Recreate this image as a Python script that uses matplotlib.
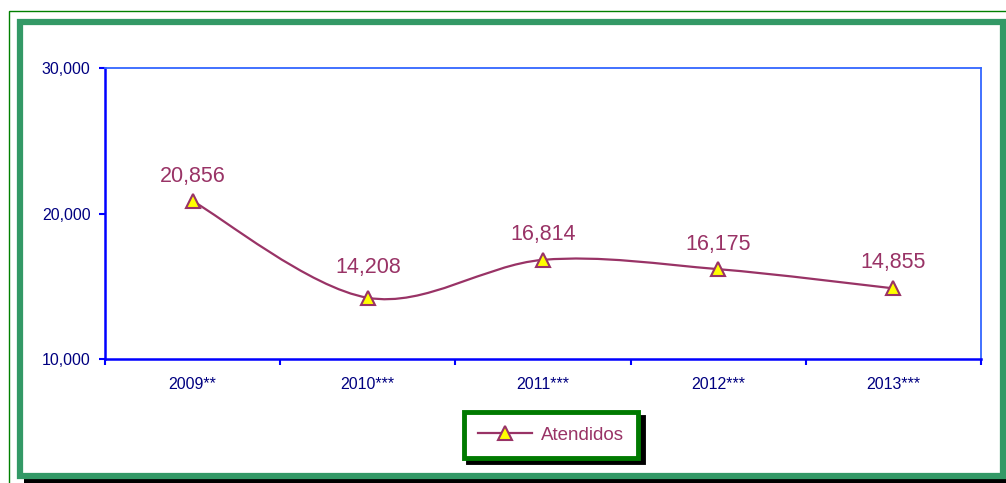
import numpy as np
import matplotlib.pyplot as plt
from matplotlib.path import Path
from matplotlib.patches import PathPatch, Rectangle

# data
years = ['2009**', '2010***', '2011***', '2012***', '2013***']
atendidos = [20856, 14208, 16814, 16175, 14855]

LINE = '#993366'
NAVY = '#000080'
label_lift = [14, 18, 14, 14, 15]  # points above each marker

plt.rcParams['font.family'] = ['Liberation Sans', 'DejaVu Sans']

fig = plt.figure(figsize=(10.06, 4.83), dpi=100)
W, H = 1006, 483


def px_rect(x0, y0, x1, y1, **kw):
    # rectangle in pixel coords (origin top-left)
    fig.patches.append(Rectangle((x0 / W, 1 - y1 / H), (x1 - x0) / W, (y1 - y0) / H,
                                 transform=fig.transFigure, figure=fig, **kw))


# frames around the chart
px_rect(24, 478, 1006, 483, facecolor='black', edgecolor='none')
px_rect(8.5, 10.5, 1010, 490, facecolor='none', edgecolor='#008000', linewidth=1)
px_rect(20, 21.5, 1003, 475.5, facecolor='none', edgecolor='#339966', linewidth=4.5)

ax = fig.add_axes([105 / W, 1 - 359 / H, (981 - 105) / W, (359 - 68) / H])

x = np.arange(len(atendidos))
y = np.array(atendidos, dtype=float)

# smoothed line (bezier through the points, like the spreadsheet "smooth line")
verts = [(x[0], y[0])]
codes = [Path.MOVETO]
for i in range(len(x) - 1):
    p0 = np.array([x[max(i - 1, 0)], y[max(i - 1, 0)]])
    p1 = np.array([x[i], y[i]])
    p2 = np.array([x[i + 1], y[i + 1]])
    p3 = np.array([x[min(i + 2, len(x) - 1)], y[min(i + 2, len(x) - 1)]])
    c1 = p1 + (p2 - p0) / 6
    c2 = p2 - (p3 - p1) / 6
    verts += [tuple(c1), tuple(c2), tuple(p2)]
    codes += [Path.CURVE4] * 3
ax.add_patch(PathPatch(Path(verts, codes), facecolor='none', edgecolor=LINE, linewidth=1.6, zorder=2))

ax.plot(x, y, linestyle='none', marker='^', markersize=10, markerfacecolor='#FFFF00',
        markeredgecolor=LINE, markeredgewidth=1.5, zorder=3)
handle, = ax.plot([], [], color=LINE, linewidth=1.6, marker='^', markersize=10,
                  markerfacecolor='#FFFF00', markeredgecolor=LINE, markeredgewidth=1.5)

for xi, yi, lift in zip(x, atendidos, label_lift):
    ax.annotate(f'{yi:,}', (xi, yi), xytext=(0, lift), textcoords='offset points',
                ha='center', va='baseline', fontsize=15.5, color=LINE)

ax.set_xlim(-0.5, len(years) - 0.5)
ax.set_ylim(10000, 30000)
ax.set_yticks([10000, 20000, 30000])
ax.set_yticklabels([f'{v:,}' for v in [10000, 20000, 30000]])
ax.set_xticks(np.arange(len(years) + 1) - 0.5)
ax.set_xticklabels([])
ax.set_xticks(x, minor=True)
ax.set_xticklabels(years, minor=True)
ax.tick_params(axis='x', which='minor', length=0, pad=13, labelsize=11.5, labelcolor=NAVY)
ax.tick_params(axis='x', which='major', direction='out', length=4.5, width=1.5, color='#0000FF')
ax.tick_params(axis='y', direction='out', length=4.5, width=1.5, color='#0000FF',
               pad=6, labelsize=11.5, labelcolor=NAVY)

for side in ['left', 'bottom']:
    ax.spines[side].set_color('#0000FF')
    ax.spines[side].set_linewidth(1.8)
for side in ['top', 'right']:
    ax.spines[side].set_color('#3366FF')
    ax.spines[side].set_linewidth(1.3)

leg = fig.legend([handle], ['Atendidos'], loc='center', bbox_to_anchor=(551 / W, 1 - 435 / H),
                 fontsize=13.5, handlelength=2.9, frameon=True, fancybox=False,
                 shadow={'color': 'black', 'alpha': 1, 'ox': 3, 'oy': -3},
                 borderpad=0.75, handletextpad=0.5, borderaxespad=0)
leg.get_frame().set_edgecolor('#007A00')
leg.get_frame().set_linewidth(3.5)
for t in leg.get_texts():
    t.set_color(LINE)

fig.savefig('out.png', dpi=100)
